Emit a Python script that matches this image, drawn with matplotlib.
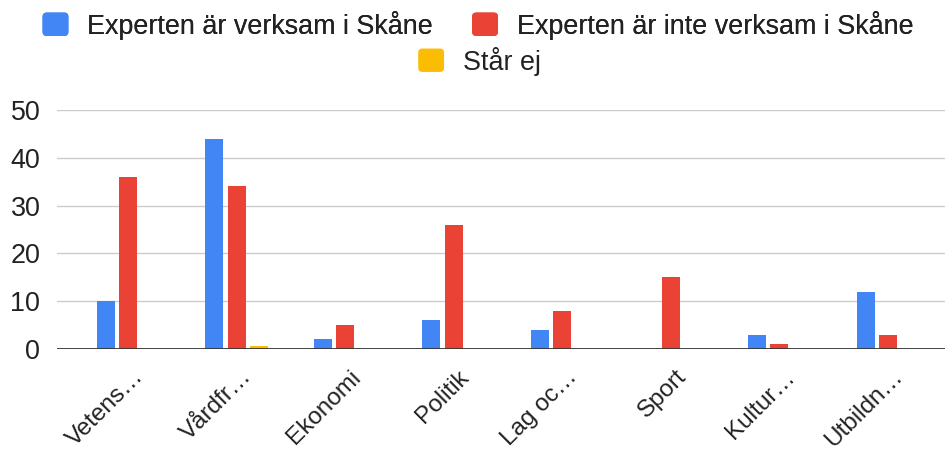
import matplotlib
matplotlib.use("Agg")
import matplotlib.pyplot as plt
import matplotlib.transforms as mtransforms
from matplotlib.patches import FancyBboxPatch
from matplotlib.legend_handler import HandlerPatch
import numpy as np

plt.rcParams['font.family'] = ['Liberation Sans', 'DejaVu Sans']

categories = ["Vetens…", "Vårdfr…", "Ekonomi", "Politik", "Lag oc…", "Sport", "Kultur…", "Utbildn…"]
series_names = ["Experten är verksam i Skåne", "Experten är inte verksam i Skåne", "Står ej"]
verksam = [10, 44, 2, 6, 4, 0, 3, 12]
inte_verksam = [36, 34, 5, 26, 8, 15, 1, 3]
star_ej = [0, 0.6, 0, 0, 0, 0, 0, 0]
colors = ["#4285F4", "#EA4335", "#FBBC04"]
yticks = [0, 10, 20, 30, 40, 50]

FS = 19.4
XFS = 17.5

fig = plt.figure(figsize=(9.51, 4.53), dpi=100)
ax = fig.add_axes([57/951, (453-349)/453, (945-57)/951, (349-110)/453])

x = np.arange(len(categories))
bw = 0.166
step = 0.207
for i, (vals, c) in enumerate(zip([verksam, inte_verksam, star_ej], colors)):
    ax.bar(x + (i - 1) * step, vals, width=bw, color=c, label=series_names[i], zorder=3)

ax.set_xlim(-0.654, 7.525)
ax.set_ylim(0, 50)
ax.set_yticks(yticks)
ax.set_yticklabels([str(v) for v in yticks], fontsize=FS, color="#222222")
ax.tick_params(axis='y', length=0, pad=12)
ax.yaxis.grid(True, color="#CCCCCC", linewidth=1, zorder=0)
ax.axhline(0, color="#333333", linewidth=2, zorder=4)
for s in ax.spines.values():
    s.set_visible(False)

ax.set_xticks(x)
ax.tick_params(axis='x', length=0)
labels = ax.set_xticklabels(categories, rotation=45, ha='right', va='top',
                            rotation_mode='anchor', fontsize=XFS, color="#222222")
offset = mtransforms.ScaledTranslation(4/100, -12/100, fig.dpi_scale_trans)
for lab in labels:
    lab.set_transform(lab.get_transform() + offset)


class RoundBox(HandlerPatch):
    def create_artists(self, legend, orig_handle, xdescent, ydescent, width, height, fontsize, trans):
        p = FancyBboxPatch((-xdescent + 2, -ydescent + 2), width - 4, height - 4,
                           boxstyle="round,pad=2,rounding_size=3",
                           facecolor=orig_handle.get_facecolor(), edgecolor='none',
                           transform=trans)
        return [p]


h = [plt.Rectangle((0, 0), 1, 1, color=c) for c in colors]
hm = {hh: RoundBox() for hh in h}
common = dict(frameon=False, fontsize=FS, handlelength=0.96, handleheight=0.96,
              handletextpad=0.7, borderpad=0, handler_map=hm, loc='center')
leg1 = fig.legend(h[:2], series_names[:2], bbox_to_anchor=(478/951, 1 - 25/453),
                  ncol=2, columnspacing=1.45, **common)
for t in leg1.get_texts():
    t.set_color("#222222")
fig.add_artist(leg1)
leg2 = fig.legend([h[2]], [series_names[2]], bbox_to_anchor=(479.5/951, 1 - 61/453),
                  ncol=1, **common)
for t in leg2.get_texts():
    t.set_color("#222222")

fig.savefig("out.png", dpi=100)
